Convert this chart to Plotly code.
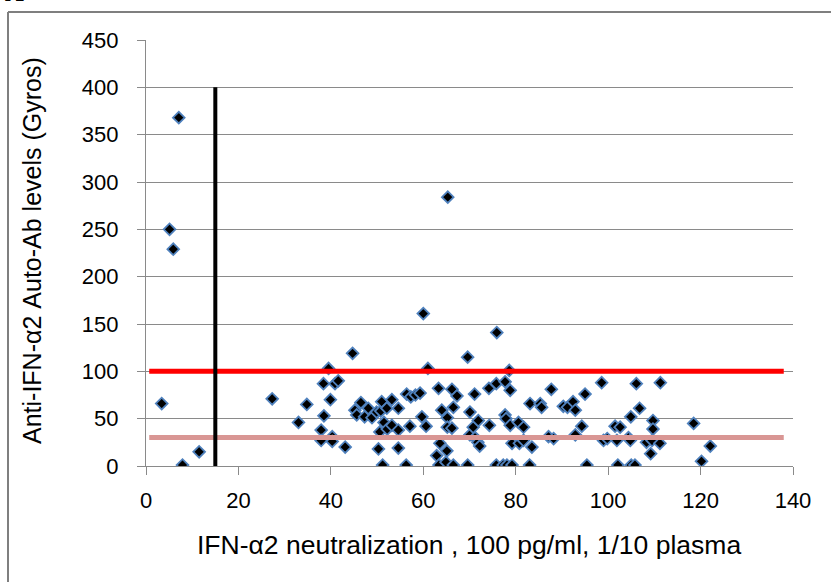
import plotly.graph_objects as go

# Data (IFN-a2 neutralization vs anti-IFN-a2 auto-Ab level)
neutralization = [
    3.4, 5.1, 5.9, 7.1, 7.9, 11.5,
    27.3, 33.0, 34.8, 37.9, 37.9, 38.5, 38.4, 39.5, 39.9, 40.3, 40.3, 40.9, 41.6, 43.1,
    44.7, 45.2, 45.6, 46.5, 47.3, 48.1, 48.9, 49.9,
    50.3, 50.6, 50.8, 51.2, 51.0, 51.5, 52.2, 53.2, 53.2, 52.1, 54.6, 54.6, 54.6, 56.3,
    56.4, 57.3, 58.3, 59.3, 57.1, 59.7, 60.0, 60.6, 61.0,
    62.9, 63.3, 63.4, 63.6, 64.0, 64.9, 65.1, 65.2, 65.2, 65.3, 66.2, 66.2, 66.5, 66.5,
    67.3, 69.6, 69.6,
    70.1, 70.1, 70.8, 71.1, 71.2, 71.9, 71.8, 72.2, 74.2, 74.3, 75.8, 75.9, 75.8, 77.3,
    77.7, 77.7, 77.9, 78.1, 78.6, 78.8, 78.8, 79.2, 79.2,
    80.6, 80.8, 81.7, 81.7, 83.0, 83.1, 83.5, 85.3, 85.6, 87.1, 87.7, 88.2,
    90.3, 91.2, 92.4, 92.9, 92.9, 94.3, 95.0, 95.4, 98.6, 99.0, 99.8,
    101.5, 102.6, 101.9, 102.1, 104.4, 104.8, 104.9, 105.0, 105.8, 106.1, 106.8, 108.3,
    109.5, 109.7, 109.7, 109.2, 111.2, 111.3, 118.5, 120.2, 122.1,
]
autoab_level = [
    66, 250, 229, 368, 1, 15,
    71, 46, 65, 38, 27, 53, 87, 103, 70, 31, 26, 87, 90, 20,
    119, 59, 54, 67, 52, 61, 51, 57,
    18, 36, 58, 1, 68, 46, 39, 70, 43, 61, 61, 38, 19, 1,
    76, 73, 75, 77, 42, 52, 161, 42, 103,
    11, 82, 1, 24, 59, 4, 16, 51, 41, 284, 81, 40, 62, 1,
    74, 115, 1,
    57, 33, 41, 76, 30, 48, 25, 21, 82, 43, 87, 141, 1, 1,
    89, 54, 50, 1, 101, 80, 43, 24, 1,
    46, 24, 41, 27, 1, 66, 20, 66, 62, 31, 81, 29,
    63, 62, 68, 59, 33, 42, 76, 1, 88, 27, 29,
    42, 41, 27, 1, 30, 27, 52, 1, 1, 87, 61, 25,
    27, 48, 39, 13, 24, 88, 45, 5, 21,
]

# Threshold / cut-off lines
upper_cut_x = [0.7, 138]
upper_cut_y = [100, 100]
lower_cut_x = [0.7, 138]
lower_cut_y = [30, 30]
neut_cut_x = [15, 15]
neut_cut_y = [0, 400]

x_ticks = [0, 20, 40, 60, 80, 100, 120, 140]
y_ticks = [0, 50, 100, 150, 200, 250, 300, 350, 400, 450]

FONT = "Liberation Sans, Arial, sans-serif"
GRID = "#8a8a8a"

fig = go.Figure()
fig.add_trace(go.Scatter(
    x=neutralization, y=autoab_level, mode="markers",
    marker=dict(symbol="diamond", size=9, color="black",
                line=dict(color="#4F81BD", width=1.8)),
    showlegend=False, hoverinfo="x+y"))
fig.add_trace(go.Scatter(x=upper_cut_x, y=upper_cut_y, mode="lines",
                         line=dict(color="#FF0000", width=5), showlegend=False))
fig.add_trace(go.Scatter(x=lower_cut_x, y=lower_cut_y, mode="lines",
                         line=dict(color="#D99694", width=5), showlegend=False))
fig.add_trace(go.Scatter(x=neut_cut_x, y=neut_cut_y, mode="lines",
                         line=dict(color="black", width=4), showlegend=False))

L, R, T, B = 146, 38, 40, 116
W, H = 831, 582
pw, ph = W - L - R, H - T - B

def px(xp):
    return (xp - L) / pw

def py(yp):
    return (H - B - yp) / ph

fig.update_layout(
    width=W, height=H,
    margin=dict(l=L, r=R, t=T, b=B, pad=0, autoexpand=False),
    paper_bgcolor="white", plot_bgcolor="white",
    font=dict(family=FONT, size=22, color="black"),
    xaxis=dict(range=[0, 140], tickvals=x_ticks, ticks="outside", ticklen=8,
               tickcolor=GRID, tickwidth=1.3, showgrid=False, zeroline=False,
               showline=True, linecolor=GRID, linewidth=1.3,
               tickfont=dict(family=FONT, size=22), ticklabelstandoff=6),
    yaxis=dict(range=[0, 450], tickvals=y_ticks, ticks="outside", ticklen=8,
               tickcolor=GRID, tickwidth=1.3, showgrid=True, gridcolor=GRID,
               gridwidth=1.3, zeroline=False, showline=True, linecolor=GRID,
               linewidth=1.3, tickfont=dict(family=FONT, size=22),
               ticklabelstandoff=14),
    annotations=[
        dict(text="IFN-\u03b12 neutralization , 100 pg/ml, 1/10 plasma",
             xref="paper", yref="paper", x=px(469), y=py(545),
             xanchor="center", yanchor="middle", showarrow=False,
             font=dict(family=FONT, size=26.5)),
        dict(text="Anti-IFN-\u03b12 Auto-Ab levels (Gyros)",
             xref="paper", yref="paper", x=px(32), y=py(251), textangle=-90,
             xanchor="center", yanchor="middle", showarrow=False,
             font=dict(family=FONT, size=25)),
        dict(text="<b>A</b>", xref="paper", yref="paper", x=px(3), y=py(9),
             xanchor="left", yanchor="bottom", showarrow=False,
             font=dict(family="Liberation Serif, Times New Roman, serif", size=26)),
    ],
    shapes=[
        dict(type="line", xref="paper", yref="paper", x0=px(8), x1=px(8),
             y0=py(12), y1=py(620), line=dict(color="#7f7f7f", width=2)),
        dict(type="line", xref="paper", yref="paper", x0=px(8), x1=px(870),
             y0=py(12), y1=py(12), line=dict(color="#7f7f7f", width=2)),
    ],
)

fig.write_html("out.html",
               config={"displayModeBar": False},
               post_script="document.body.style.margin='0';"
                           "document.body.style.overflow='hidden';")
